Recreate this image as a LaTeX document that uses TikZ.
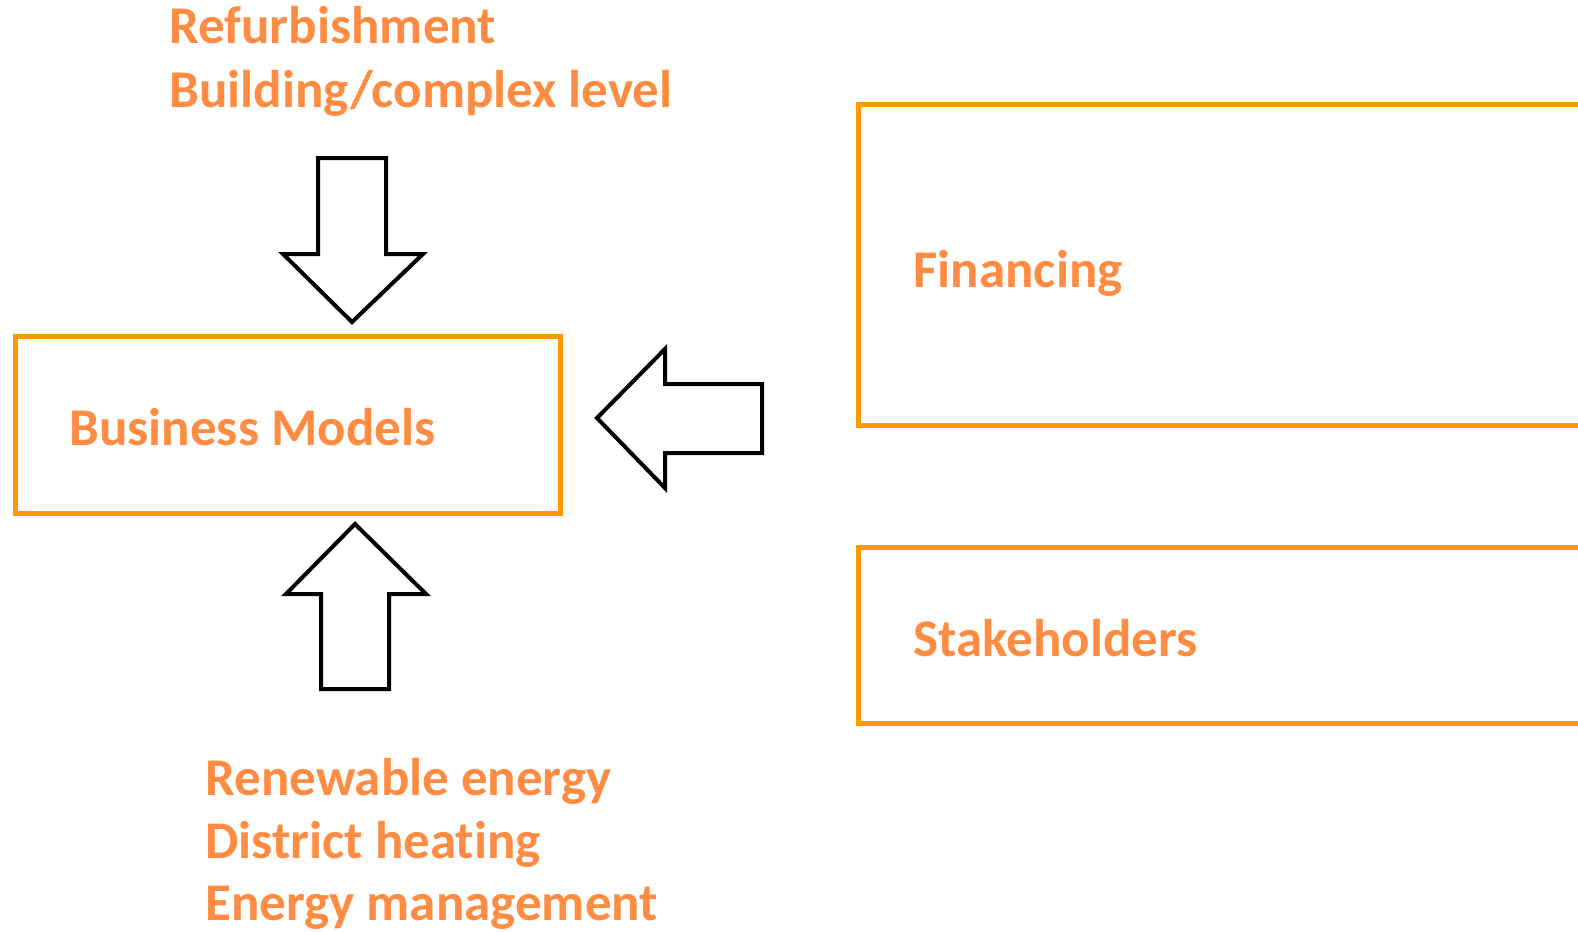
\documentclass[tikz,border=0pt]{standalone}
\usepackage{fontspec}
\setmainfont[Ligatures=NoCommon]{Carlito}
\definecolor{txtor}{RGB}{255,140,66}
\definecolor{boxor}{RGB}{255,153,0}
\begin{document}
\begin{tikzpicture}[x=0.5pt,y=-0.5pt,
  obox/.style={draw=boxor,line width=2.5pt},
  blk/.style={draw=black,line width=2pt,fill=white,line join=miter},
  lbl/.style={text=txtor,font=\fontsize{26.5}{32}\selectfont\bfseries,inner sep=0pt,anchor=base west}]
\useasboundingbox (0,0) rectangle (1578,931);
\clip (0,0) rectangle (1578,931);
% boxes
\draw[obox] (15,336) rectangle (560,513);
\draw[obox] (858,105) rectangle (1620,425);
\draw[obox] (858,547) rectangle (1620,723);
% box labels
\node[lbl] (bm) at (69,445) {Business Models};
\node[lbl] (fin) at (913,287) {Financing};
\node[lbl] (stk) at (913,656) {Stakeholders};
% top labels
\node[lbl] (t1) at (169,44) {Refurbishment};
\node[lbl] (t2) at (169,108) {Building/complex level};
% bottom labels
\node[lbl] (b1) at (205,795) {Renewable energy};
\node[lbl] (b2) at (205,858) {District heating};
\node[lbl] (b3) at (205,920) {Energy management};
% down arrow
\draw[blk] (318,158) -- (386,158) -- (386,254) -- (423,254) -- (352,322) -- (283,254) -- (318,254) -- cycle;
% up arrow
\draw[blk] (355,524) -- (426,594) -- (389,594) -- (389,689) -- (321,689) -- (321,594) -- (286,594) -- cycle;
% left arrow
\draw[blk] (597,418) -- (665,349) -- (665,384) -- (762,384) -- (762,453) -- (665,453) -- (665,488) -- cycle;
\end{tikzpicture}
\end{document}
